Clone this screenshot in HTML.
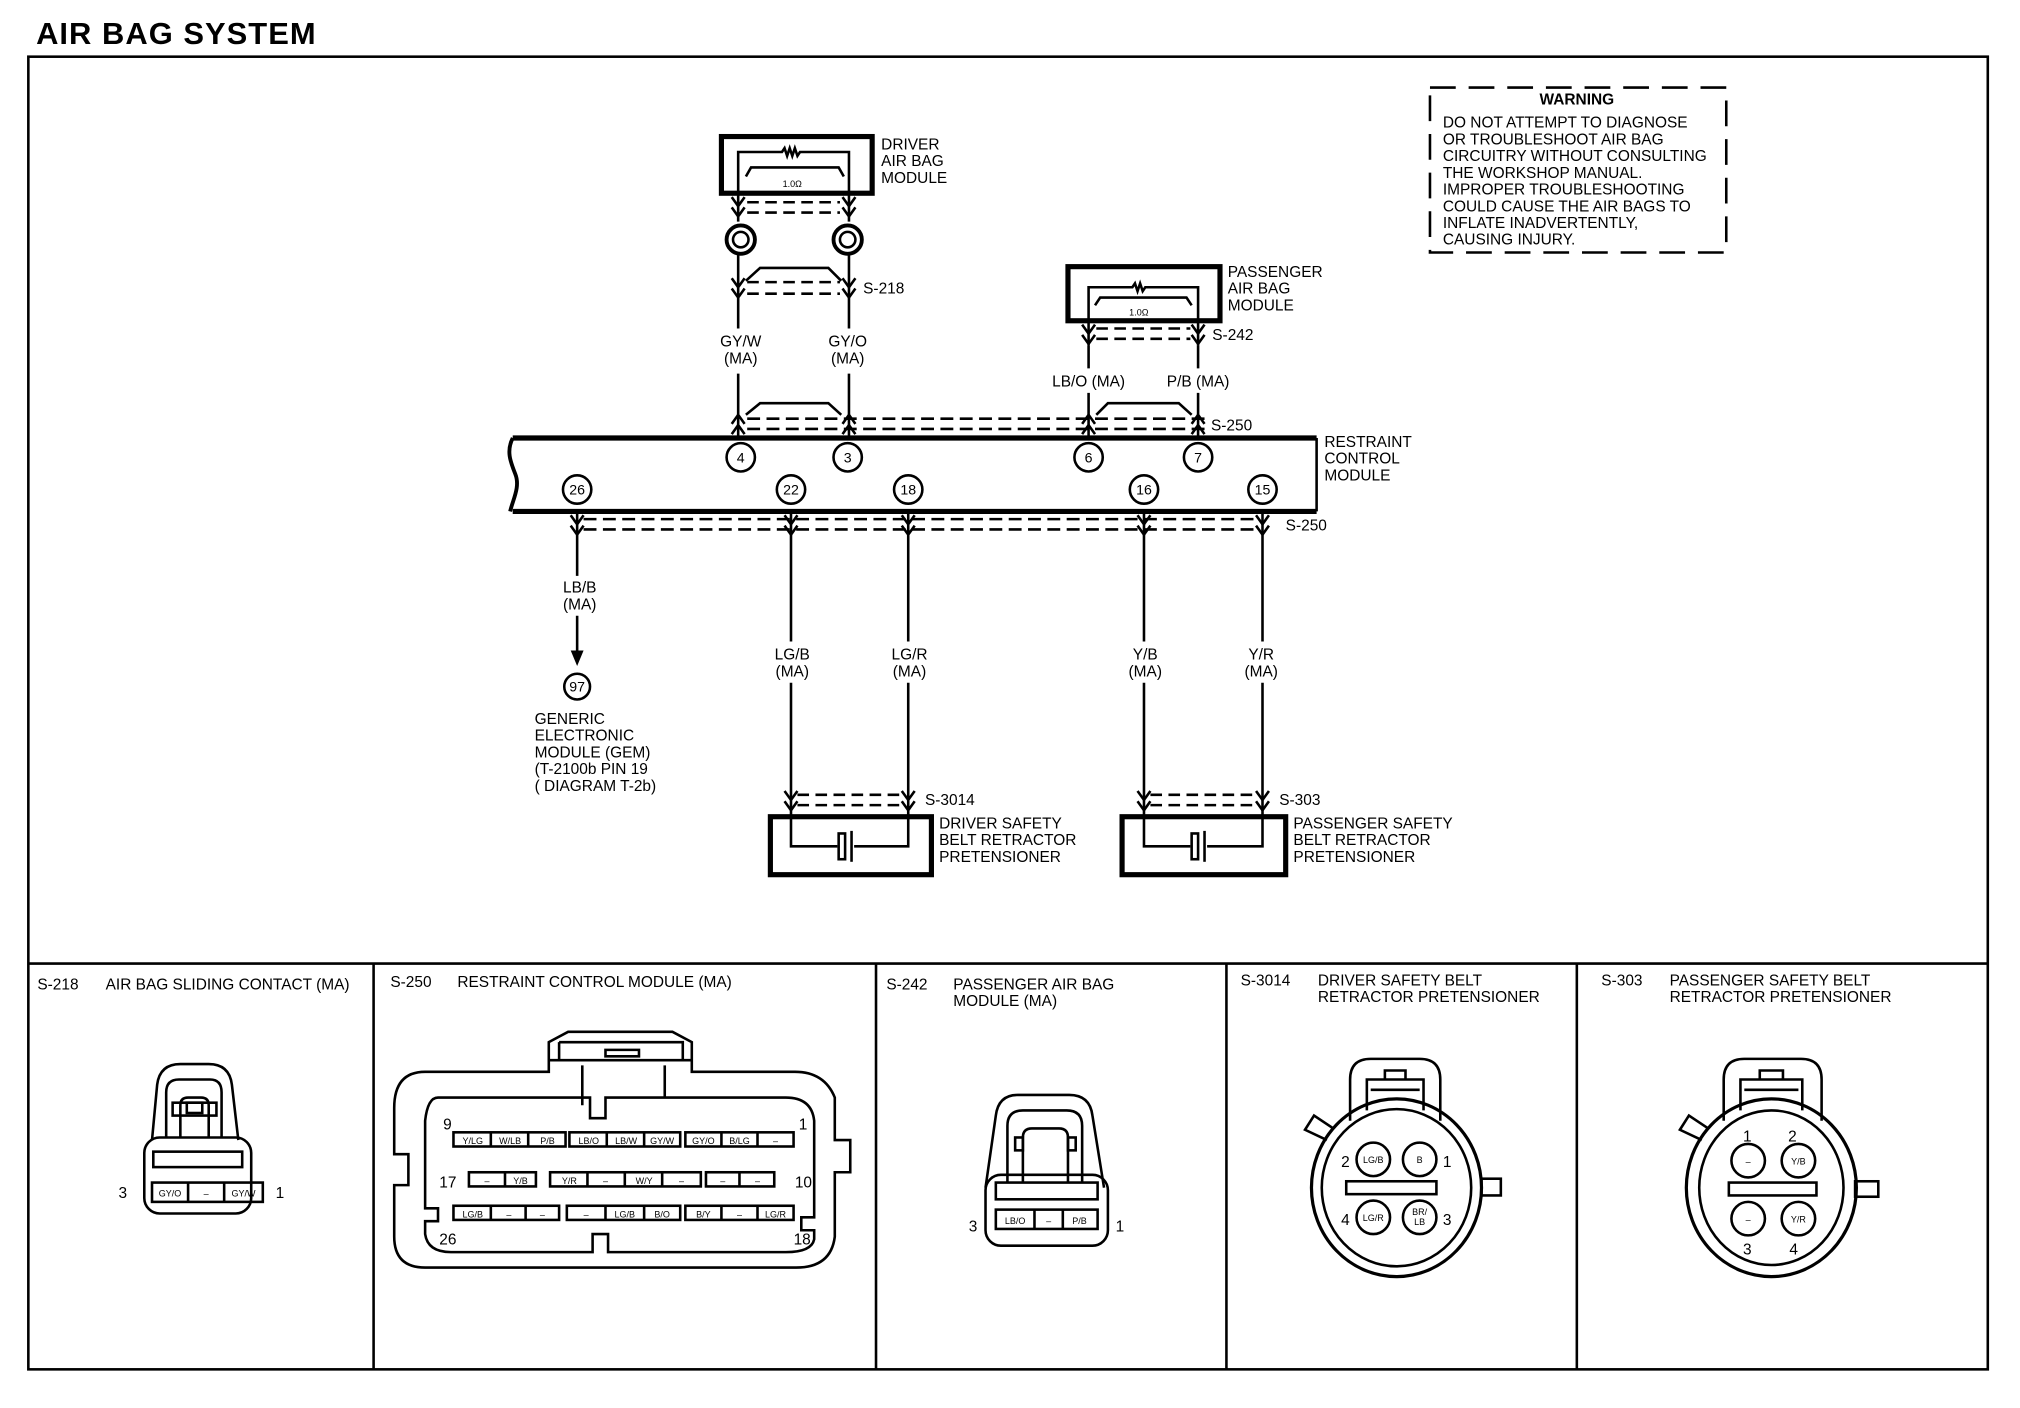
<!DOCTYPE html>
<html><head><meta charset="utf-8"><style>
html,body{margin:0;padding:0;background:#fff}
svg{display:block}
text{font-family:"Liberation Sans",sans-serif;fill:#000}
</style></head><body>
<svg width="2020" height="1408" viewBox="0 0 1568 1093" preserveAspectRatio="none" xmlns="http://www.w3.org/2000/svg">
<g fill="none" stroke="#000" stroke-width="2">
<rect x="22" y="44" width="1521" height="1019"/>
<line x1="22" y1="748" x2="1543" y2="748"/>
<line x1="290" y1="748" x2="290" y2="1063"/>
<line x1="680" y1="748" x2="680" y2="1063"/>
<line x1="952" y1="748" x2="952" y2="1063"/>
<line x1="1224" y1="748" x2="1224" y2="1063"/>
<rect x="1110" y="68" width="230" height="128" stroke-dasharray="20 10"/>

<rect x="560" y="106" width="117" height="44" stroke-width="4"/>
<path d="M573,172 V118 H607 l2,-3 2,6 2,-6 2,6 2,-6 2,6 2,-3 H659 V172" stroke-width="2"/>
<path d="M579,137 L583,130 H651 L655,137" stroke-width="2"/>
<path d="M568,153 L573,160 L578,153 M568,161 L573,168 L578,161 M654,153 L659,160 L664,153 M654,161 L659,168 L664,161" stroke-width="2"/>
<path d="M580,157 H652 M580,165 H652" stroke-dasharray="9 5"/>
<circle cx="575" cy="186" r="11" stroke-width="3"/><circle cx="575" cy="186" r="6"/>
<circle cx="658" cy="186" r="11" stroke-width="3"/><circle cx="658" cy="186" r="6"/>
<path d="M573,197 V255 M573,290 V340 M659,197 V255 M659,290 V340"/>
<path d="M579,218 L590,208 H643 L653,218"/>
<path d="M568,216 L573,223 L578,216 M568,224 L573,231 L578,224 M654,216 L659,223 L664,216 M654,224 L659,231 L664,224"/>
<path d="M580,219 H652 M580,228 H652" stroke-dasharray="9 5"/>

<path d="M579,322 L590,313 H643 L653,322"/>
<path d="M851,322 L860,313 H915 L925,322"/>
<path d="M568,329 L573,322 L578,329 M568,337 L573,330 L578,337 M654,329 L659,322 L664,329 M654,337 L659,330 L664,337 M840,329 L845,322 L850,329 M840,337 L845,330 L850,337 M925,329 L930,322 L935,329 M925,337 L930,330 L935,337"/>
<path d="M580,325 H935 M580,333 H935" stroke-dasharray="10 5"/>

<rect x="829" y="207" width="118" height="42" stroke-width="4"/>
<path d="M845,268 V223 H879 l2,-3 2,6 2,-6 2,6 2,-3 H930 V268"/>
<path d="M850,237 L854,231 H921 L925,237"/>
<path d="M840,252 L845,259 L850,252 M840,260 L845,267 L850,260 M925,252 L930,259 L935,252 M925,260 L930,267 L935,260"/>
<path d="M851,255 H924 M851,263 H924" stroke-dasharray="9 5"/>
<path d="M845,268 V286 M845,305 V340 M930,268 V286 M930,305 V340"/>

<path d="M398,340 H1022 M398,397 H1022" stroke-width="4"/>
<path d="M1022,340 V397"/>
<path d="M398,340 C393,350 396,358 400,368 C404,378 398,388 396,397" stroke-width="3"/>
<g stroke-width="2">
<circle cx="575" cy="355" r="11"/><circle cx="658" cy="355" r="11"/><circle cx="845" cy="355" r="11"/><circle cx="930" cy="355" r="11"/>
<circle cx="448" cy="380" r="11"/><circle cx="614" cy="380" r="11"/><circle cx="705" cy="380" r="11"/><circle cx="888" cy="380" r="11"/><circle cx="980" cy="380" r="11"/>
</g>
<path d="M443,400 L448,407 L453,400 M443,408 L448,415 L453,408 M609,400 L614,407 L619,400 M609,408 L614,415 L619,408 M700,400 L705,407 L710,400 M700,408 L705,415 L710,408 M883,400 L888,407 L893,400 M883,408 L888,415 L893,408 M975,400 L980,407 L985,400 M975,408 L980,415 L985,408"/>
<path d="M453,403 H976 M453,411 H976" stroke-dasharray="10 5"/>
<path d="M448,397 V447 M448,478 V505"/>
<circle cx="448" cy="533" r="10"/>
<path d="M614,397 V498 M614,530 V628 M705,397 V498 M705,530 V628 M888,397 V498 M888,530 V628 M980,397 V498 M980,530 V628"/>
<path d="M609,614 L614,621 L619,614 M609,622 L614,629 L619,622 M700,614 L705,621 L710,614 M700,622 L705,629 L710,622 M883,614 L888,621 L893,614 M883,622 L888,629 L893,622 M975,614 L980,621 L985,614 M975,622 L980,629 L985,622"/>
<path d="M619,617 H700 M619,625 H700 M893,617 H975 M893,625 H975" stroke-dasharray="9 5"/>
<rect x="598" y="634" width="125" height="45" stroke-width="4"/>
<rect x="871" y="634" width="127" height="45" stroke-width="4"/>
<path d="M614,628 V657 H650 M663,657 H705 V628"/>
<rect x="651" y="647" width="5" height="20"/><path d="M661,645 V669"/>
<path d="M888,628 V657 H924 M937,657 H980 V628"/>
<rect x="925" y="647" width="5" height="20"/><path d="M935,645 V669"/>

<path d="M118,885 L122,842 Q124,826 140,826 H162 Q178,826 180,842 L185,885" stroke-width="2"/>
<path d="M129,883 V848 Q129,838 139,838 H163 Q172,838 172,848 V883"/>
<path d="M140,883 V858 Q140,852 146,852 H156 Q162,852 162,858 V883"/>
<rect x="134" y="856" width="34" height="10"/>
<rect x="145" y="856" width="12" height="8"/>
<rect x="112" y="883" width="83" height="59" rx="12"/>
<rect x="119" y="894" width="69" height="12"/>
<rect x="118" y="918" width="86" height="15"/>
<path d="M146,918 V933 M174,918 V933"/>
<path d="M765,922 L773,866 Q775,850 790,850 H830 Q846,850 848,866 L857,922"/>
<path d="M782,918 V874 Q782,862 794,862 H828 Q840,862 840,874 V918"/>
<path d="M794,918 V883 Q794,876 801,876 H822 Q829,876 829,883 V918"/>
<rect x="788" y="883" width="6" height="10"/><rect x="829" y="883" width="6" height="10"/>
<rect x="765" y="912" width="95" height="55" rx="12"/>
<rect x="773" y="918" width="79" height="13"/>
<rect x="773" y="939" width="79" height="15"/>
<path d="M803,939 V954 M825,939 V954"/>

<path d="M346,832 H426 V809 L441,801 H522 L537,809 V832 H617 Q640,832 648,852 V885 H660 V910 H648 V960 Q645,984 618,984 H330 Q306,984 306,960 V920 H317 V896 H306 V860 Q306,832 330,832 Z" stroke-width="2"/>
<path d="M340,852 H458 V868 H470 V852 H610 Q630,852 632,870 V945 H622 V955 H632 V962 Q630,972 610,972 H472 V958 H460 V972 H350 Q332,972 330,958 V948 H340 V938 H330 V870 Q332,852 340,852 Z"/>
<path d="M426,823 H537 M434,809 H530 V823 M434,809 V823 M470,815 H496 V820 H470 Z"/>
<path d="M452,827 V858 M516,827 V852"/>
<g stroke-width="2">
<rect x="352" y="879" width="87" height="11"/><rect x="442" y="879" width="86" height="11"/><rect x="532" y="879" width="84" height="11"/>
<path d="M381,879 V890 M410,879 V890 M471,879 V890 M500,879 V890 M560,879 V890 M588,879 V890"/>
<rect x="364" y="910" width="52" height="11"/><rect x="427" y="910" width="117" height="11"/><rect x="548" y="910" width="53" height="11"/>
<path d="M392,910 V921 M456,910 V921 M485,910 V921 M514,910 V921 M574,910 V921"/>
<rect x="352" y="936" width="82" height="11"/><rect x="440" y="936" width="88" height="11"/><rect x="532" y="936" width="84" height="11"/>
<path d="M381,936 V947 M408,936 V947 M470,936 V947 M500,936 V947 M560,936 V947 M588,936 V947"/>
</g>

<path d="M1048,870 V838 Q1048,822 1064,822 H1102 Q1118,822 1118,838 V870"/>
<path d="M1061,862 V838 H1105 V862 M1064,846 H1102 M1075,838 V831 H1091 V838"/>
<ellipse cx="1084" cy="922" rx="66" ry="69" stroke-width="2.5"/>
<ellipse cx="1084" cy="922" rx="58" ry="61"/>
<path d="M1030,885 L1013,877 L1020,866 L1035,876" />
<rect x="1150" y="915" width="15" height="13"/>
<circle cx="1066" cy="900" r="13"/><circle cx="1102" cy="900" r="13"/>
<circle cx="1066" cy="945" r="13"/><circle cx="1102" cy="945" r="13"/>
<rect x="1045" y="917" width="70" height="10"/>
<path d="M1338,870 V838 Q1338,822 1354,822 H1398 Q1414,822 1414,838 V870"/>
<path d="M1351,862 V838 H1399 V862 M1354,846 H1396 M1366,838 V831 H1384 V838"/>
<ellipse cx="1375" cy="922" rx="66" ry="69" stroke-width="2.5"/>
<ellipse cx="1375" cy="922" rx="56" ry="60"/>
<path d="M1321,885 L1304,877 L1311,866 L1326,876"/>
<rect x="1440" y="917" width="18" height="12"/>
<circle cx="1357" cy="901" r="13"/><circle cx="1396" cy="901" r="13"/>
<circle cx="1357" cy="946" r="13"/><circle cx="1396" cy="946" r="13"/>
<rect x="1342" y="918" width="68" height="10"/>
</g>
<path d="M443,505 L453,505 L448,517 Z" fill="#000"/>

<text x="28" y="34" font-size="24" font-weight="bold" textLength="217">AIR BAG SYSTEM</text>
<g font-size="12">
<text x="684" y="116">DRIVER</text><text x="684" y="129">AIR BAG</text><text x="684" y="142">MODULE</text>
<text x="670" y="228">S-218</text>
<text x="575" y="269" text-anchor="middle">GY/W</text><text x="575" y="282" text-anchor="middle">(MA)</text>
<text x="658" y="269" text-anchor="middle">GY/O</text><text x="658" y="282" text-anchor="middle">(MA)</text>
<text x="953" y="215">PASSENGER</text><text x="953" y="228">AIR BAG</text><text x="953" y="241">MODULE</text>
<text x="941" y="264">S-242</text>
<text x="845" y="300" text-anchor="middle">LB/O (MA)</text><text x="930" y="300" text-anchor="middle">P/B (MA)</text>
<text x="940" y="334">S-250</text>
<text x="1028" y="347">RESTRAINT</text><text x="1028" y="360">CONTROL</text><text x="1028" y="373">MODULE</text>
<text x="998" y="412">S-250</text>
<text x="450" y="460" text-anchor="middle">LB/B</text><text x="450" y="473" text-anchor="middle">(MA)</text>
<text x="415" y="562">GENERIC</text><text x="415" y="575">ELECTRONIC</text><text x="415" y="588">MODULE (GEM)</text><text x="415" y="601">(T-2100b PIN 19</text><text x="415" y="614">( DIAGRAM  T-2b)</text>
<text x="615" y="512" text-anchor="middle">LG/B</text><text x="615" y="525" text-anchor="middle">(MA)</text>
<text x="706" y="512" text-anchor="middle">LG/R</text><text x="706" y="525" text-anchor="middle">(MA)</text>
<text x="889" y="512" text-anchor="middle">Y/B</text><text x="889" y="525" text-anchor="middle">(MA)</text>
<text x="979" y="512" text-anchor="middle">Y/R</text><text x="979" y="525" text-anchor="middle">(MA)</text>
<text x="718" y="625">S-3014</text>
<text x="729" y="643">DRIVER SAFETY</text><text x="729" y="656">BELT  RETRACTOR</text><text x="729" y="669">PRETENSIONER</text>
<text x="993" y="625">S-303</text>
<text x="1004" y="643">PASSENGER SAFETY</text><text x="1004" y="656">BELT  RETRACTOR</text><text x="1004" y="669">PRETENSIONER</text>
<text x="1224" y="81" text-anchor="middle" font-weight="bold">WARNING</text>
<text x="1120" y="99">DO NOT ATTEMPT TO DIAGNOSE</text>
<text x="1120" y="112">OR TROUBLESHOOT AIR BAG</text>
<text x="1120" y="125">CIRCUITRY WITHOUT CONSULTING</text>
<text x="1120" y="138">THE WORKSHOP MANUAL.</text>
<text x="1120" y="151">IMPROPER TROUBLESHOOTING</text>
<text x="1120" y="164">COULD CAUSE THE AIR BAGS TO</text>
<text x="1120" y="177">INFLATE INADVERTENTLY,</text>
<text x="1120" y="190">CAUSING INJURY.</text>
<text x="29" y="768">S-218</text><text x="82" y="768">AIR BAG SLIDING CONTACT  (MA)</text>
<text x="303" y="766">S-250</text><text x="355" y="766">RESTRAINT CONTROL MODULE (MA)</text>
<text x="688" y="768">S-242</text><text x="740" y="768">PASSENGER AIR BAG</text><text x="740" y="781">MODULE  (MA)</text>
<text x="963" y="765">S-3014</text><text x="1023" y="765">DRIVER SAFETY BELT</text><text x="1023" y="778">RETRACTOR PRETENSIONER</text>
<text x="1243" y="765">S-303</text><text x="1296" y="765">PASSENGER SAFETY BELT</text><text x="1296" y="778">RETRACTOR PRETENSIONER</text>
<text x="92" y="930">3</text><text x="214" y="930">1</text>
<text x="752" y="956">3</text><text x="866" y="956">1</text>
<text x="344" y="877">9</text><text x="620" y="877">1</text>
<text x="341" y="922">17</text><text x="617" y="922">10</text>
<text x="341" y="966">26</text><text x="616" y="966">18</text>
<text x="1041" y="906">2</text><text x="1120" y="906">1</text>
<text x="1041" y="951">4</text><text x="1120" y="951">3</text>
<text x="1353" y="886">1</text><text x="1388" y="886">2</text>
<text x="1353" y="974">3</text><text x="1389" y="974">4</text>
</g>
<g font-size="11" text-anchor="middle">
<text x="575" y="359">4</text><text x="658" y="359">3</text><text x="845" y="359">6</text><text x="930" y="359">7</text>
<text x="448" y="384">26</text><text x="614" y="384">22</text><text x="705" y="384">18</text><text x="888" y="384">16</text><text x="980" y="384">15</text>
<text x="448" y="537">97</text>
</g>
<g font-size="7" text-anchor="middle">
<text x="615" y="145">1.0Ω</text><text x="884" y="245">1.0Ω</text>
<text x="132" y="929">GY/O</text><text x="160" y="929">–</text><text x="189" y="929">GY/W</text>
<text x="788" y="950">LB/O</text><text x="814" y="950">–</text><text x="838" y="950">P/B</text>
<text x="367" y="888">Y/LG</text><text x="396" y="888">W/LB</text><text x="425" y="888">P/B</text>
<text x="457" y="888">LB/O</text><text x="486" y="888">LB/W</text><text x="514" y="888">GY/W</text>
<text x="546" y="888">GY/O</text><text x="574" y="888">B/LG</text><text x="602" y="888">–</text>
<text x="378" y="919">–</text><text x="404" y="919">Y/B</text>
<text x="442" y="919">Y/R</text><text x="470" y="919">–</text><text x="500" y="919">W/Y</text><text x="529" y="919">–</text>
<text x="561" y="919">–</text><text x="588" y="919">–</text>
<text x="367" y="945">LG/B</text><text x="395" y="945">–</text><text x="421" y="945">–</text>
<text x="455" y="945">–</text><text x="485" y="945">LG/B</text><text x="514" y="945">B/O</text>
<text x="546" y="945">B/Y</text><text x="574" y="945">–</text><text x="602" y="945">LG/R</text>
<text x="1066" y="903">LG/B</text><text x="1102" y="903">B</text>
<text x="1066" y="948">LG/R</text><text x="1102" y="943">BR/</text><text x="1102" y="951">LB</text>
<text x="1357" y="904">–</text><text x="1396" y="904">Y/B</text>
<text x="1357" y="949">–</text><text x="1396" y="949">Y/R</text>
</g>
</svg>
</body></html>
